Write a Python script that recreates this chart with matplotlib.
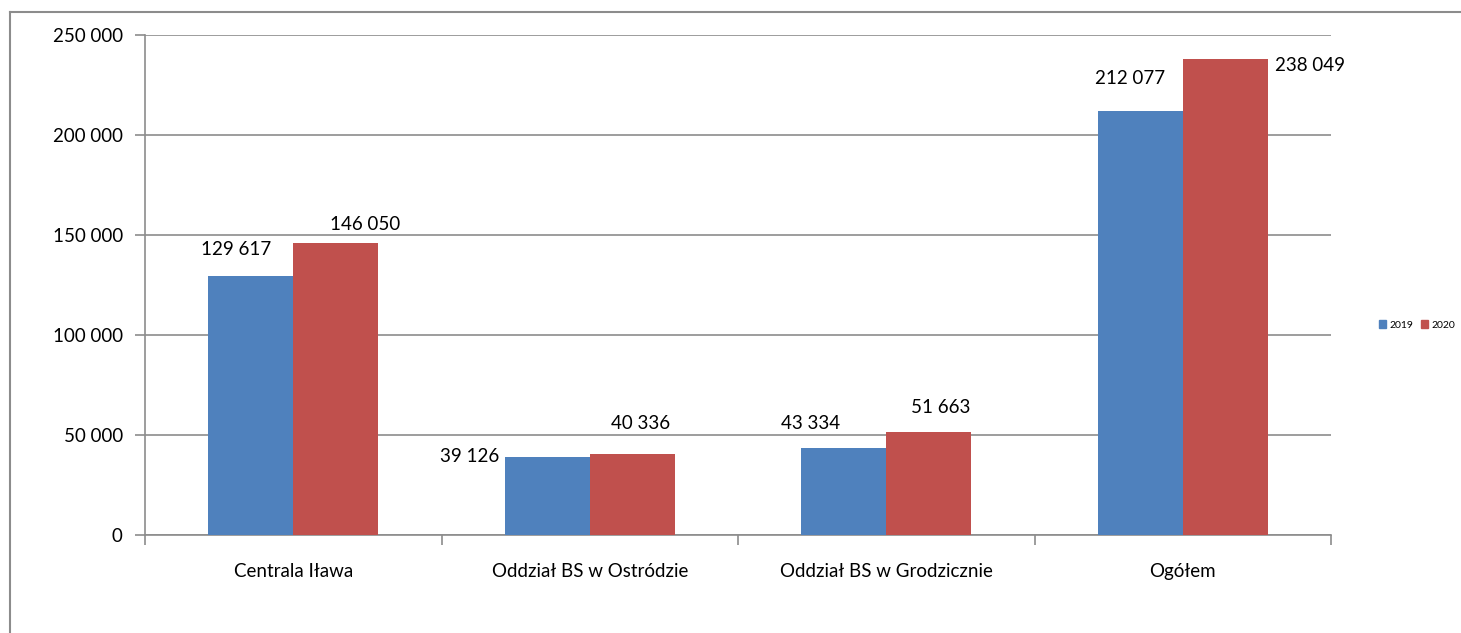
import matplotlib
matplotlib.use("Agg")
import matplotlib.pyplot as plt
import numpy as np
from matplotlib.lines import Line2D
from matplotlib.patches import Patch

plt.rcParams['font.family'] = ['Lato', 'DejaVu Sans']

categories = ["Centrala Iława", "Oddział BS w Ostródzie", "Oddział BS w Grodzicznie", "Ogółem"]
series_names = ["2019", "2020"]
values_2019 = [129617, 39126, 43334, 212077]
values_2020 = [146050, 40336, 51663, 238049]
yticks = [0, 50000, 100000, 150000, 200000, 250000]

# label offsets in pixels relative to the top centre of each bar
offsets_2019 = [(-15, 26), (-5, 0), (-33, 25), (-10, 32)]
offsets_2020 = [(29, 18), (8, 31), (12, 24), (85, -7)]
ha_2019 = ["center", "right", "center", "center"]

blue = "#4F81BD"
red = "#C0504D"
grid_c = "#8C8C8C"
FS = 13.5

fig = plt.figure(figsize=(14.61, 6.33), dpi=100)
ax = fig.add_axes([145/1461, 1-535/633, (1331-145)/1461, 500/633])

x = np.arange(len(categories))
w = 0.287
ax.bar(x - w/2, values_2019, w, color=blue, zorder=3)
ax.bar(x + w/2, values_2020, w, color=red, zorder=3)

def fmt(v):
    return f"{v:,}".replace(",", " ")

for i, v in enumerate(values_2019):
    dx, dy = offsets_2019[i]
    xa = x[i] - w/2
    if ha_2019[i] == "right":
        xa = x[i] - w
    ax.annotate(fmt(v), (xa, v), xytext=(dx, dy), textcoords="offset pixels",
                ha=ha_2019[i], va="center", fontsize=FS, zorder=4)
for i, v in enumerate(values_2020):
    dx, dy = offsets_2020[i]
    ax.annotate(fmt(v), (x[i] + w/2, v), xytext=(dx, dy), textcoords="offset pixels",
                ha="center", va="center", fontsize=FS, zorder=4)

ax.set_xlim(-0.5, len(categories) - 0.5)
ax.set_ylim(0, 250000)
ax.set_yticks(yticks)
ax.set_yticklabels([fmt(t) for t in yticks], fontsize=FS)
ax.yaxis.grid(True, color=grid_c, linewidth=1.2, zorder=0)
ax.set_xticks(x)
ax.set_xticklabels(categories, fontsize=FS)
ax.tick_params(axis="x", length=0, pad=20)
ax.tick_params(axis="y", length=7, color=grid_c, width=1.2, pad=9)
# category boundary ticks along the x axis
ax.set_xticks(np.arange(len(categories) + 1) - 0.5, minor=True)
ax.tick_params(axis="x", which="minor", length=7, color=grid_c, width=1.2)

for s in ["top", "right"]:
    ax.spines[s].set_visible(False)
for s in ["left", "bottom"]:
    ax.spines[s].set_color(grid_c)
    ax.spines[s].set_linewidth(1.2)

# outer frame of the chart area
fig.add_artist(Line2D([10/1461, 10/1461], [0, 1-12/633], color="#8C8C8C", lw=1.5,
                      transform=fig.transFigure))
fig.add_artist(Line2D([10/1461, 1], [1-12/633, 1-12/633], color="#8C8C8C", lw=1.5,
                      transform=fig.transFigure))

handles = [Patch(color=blue, label=series_names[0]), Patch(color=red, label=series_names[1])]
fig.legend(handles=handles, loc="center", bbox_to_anchor=(1417/1461, 1-325/633), ncol=2,
           frameon=False, fontsize=7.5, handlelength=0.7, handleheight=0.7,
           handletextpad=0.3, columnspacing=0.7)

fig.savefig("out.png", dpi=100)
